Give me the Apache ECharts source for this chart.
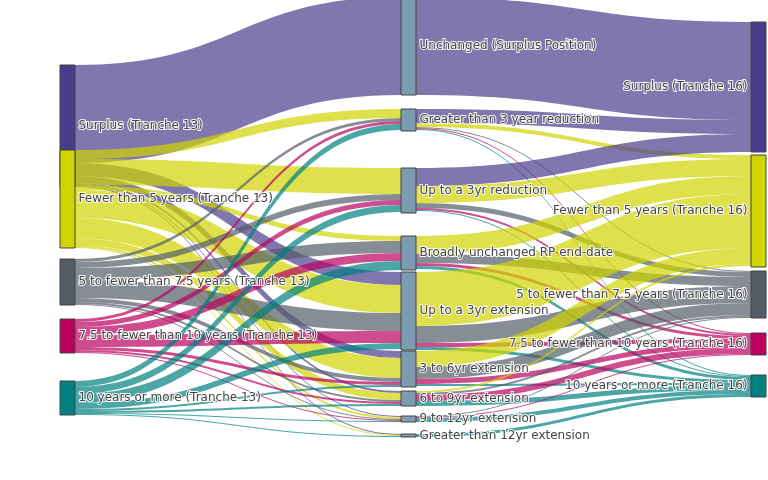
<!DOCTYPE html>
<html>
<head>
<meta charset="utf-8">
<script src="https://cdn.jsdelivr.net/npm/echarts@6/dist/echarts.min.js"></script>
<style>
  html, body { margin: 0; padding: 0; background: #fff; }
  #chart { width: 768px; height: 480px; }
</style>
</head>
<body>
<div id="chart"></div>
<script>
// ---------- DATA ----------
const tranche13 = [
  'Surplus (Tranche 13)',
  'Fewer than 5 years (Tranche 13)',
  '5 to fewer than 7.5 years (Tranche 13)',
  '7.5 to fewer than 10 years (Tranche 13)',
  '10 years or more (Tranche 13)'
];
const tranche13Values = [122, 98, 46, 34, 34];

const changes = [
  'Unchanged (Surplus Position)',
  'Greater than 3 year reduction',
  'Up to a 3yr reduction',
  'Broadly unchanged RP end-date',
  'Up to a 3yr extension',
  '3 to 6yr extension',
  '6 to 9yr extension',
  '9 to 12yr extension',
  'Greater than 12yr extension'
];
const changeValues = [98, 22, 45, 34, 78, 36, 15, 6, 3];

const tranche16 = [
  'Surplus (Tranche 16)',
  'Fewer than 5 years (Tranche 16)',
  '5 to fewer than 7.5 years (Tranche 16)',
  '7.5 to fewer than 10 years (Tranche 16)',
  '10 years or more (Tranche 16)'
];
const tranche16Values = [130, 112, 47, 22, 22];

// rows: Tranche 13 category, columns: change category
const flowsT13ToChange = [
  [98, 0, 0, 0, 13, 7, 2, 1, 1],
  [0, 9, 26, 5, 28, 20, 7, 2, 1],
  [0, 3, 6, 12, 18, 4, 2, 1, 0],
  [0, 3, 5, 8, 12, 3, 2, 1, 0],
  [0, 6, 7, 9, 6, 2, 2, 1, 1]
];
// rows: change category, columns: Tranche 16 category
const flowsChangeToT16 = [
  [98, 0, 0, 0, 0],
  [14, 4, 1, 1, 1],
  [18, 17, 5, 2, 1],
  [0, 18, 9, 3, 3],
  [0, 54, 17, 4, 3],
  [0, 16, 12, 5, 2],
  [0, 2, 2, 6, 5],
  [0, 0, 1, 1, 4],
  [0, 0, 0, 0, 3]
];

// ---------- STYLE / LAYOUT ----------
const categoryColors = ['#483d8b', '#d0d400', '#525d68', '#bb0060', '#008080'];
const changeColor = '#7d9cb1';
const LAYOUT_H = 337;             // layout height (1 value unit = 1 px)
const col13Top = [65, 150, 259, 319, 381];
const colChangeTop = [-3, 109, 168, 236, 272, 351, 391, 416, 434];
const col16Top = [22, 155, 271, 333, 375];
const middleX = (401 - 60) / 706;

const labelBase = {
  fontFamily: 'DejaVu Sans', fontSize: 12, color: '#444',
  textBorderColor: 'rgba(255,255,255,0.95)', textBorderWidth: 2, distance: 3
};

const nodes = [];
tranche13.forEach((n, i) => nodes.push({
  name: n, value: tranche13Values[i], localY: col13Top[i] / LAYOUT_H,
  itemStyle: { color: categoryColors[i] },
  label: Object.assign({ position: 'right' }, labelBase)
}));
changes.forEach((n, i) => nodes.push({
  name: n, value: changeValues[i], localX: middleX, localY: colChangeTop[i] / LAYOUT_H,
  itemStyle: { color: changeColor },
  label: Object.assign({ position: 'right' }, labelBase)
}));
tranche16.forEach((n, i) => nodes.push({
  name: n, value: tranche16Values[i], localY: col16Top[i] / LAYOUT_H,
  itemStyle: { color: categoryColors[i] },
  label: Object.assign({ position: 'left' }, labelBase)
}));

const links = [];
flowsT13ToChange.forEach((row, i) => row.forEach((v, j) => {
  if (v > 0) links.push({ source: tranche13[i], target: changes[j], value: v,
    lineStyle: { color: categoryColors[i], opacity: 0.7 } });
}));
flowsChangeToT16.forEach((row, i) => row.forEach((v, j) => {
  if (v > 0) links.push({ source: changes[i], target: tranche16[j], value: v,
    lineStyle: { color: categoryColors[j], opacity: 0.7 } });
}));

const chart = echarts.init(document.getElementById('chart'), null, { renderer: 'canvas' });
chart.setOption({
  animation: false,
  series: [{
    type: 'sankey',
    left: 60, right: 2, top: 0, height: LAYOUT_H,
    nodeWidth: 15,
    nodeGap: 0,
    layoutIterations: 0,
    draggable: false,
    emphasis: { disabled: true },
    itemStyle: { borderColor: '#444', borderWidth: 1 },
    lineStyle: { curveness: 0.5 },
    data: nodes,
    links: links
  }]
});
</script>
</body>
</html>
